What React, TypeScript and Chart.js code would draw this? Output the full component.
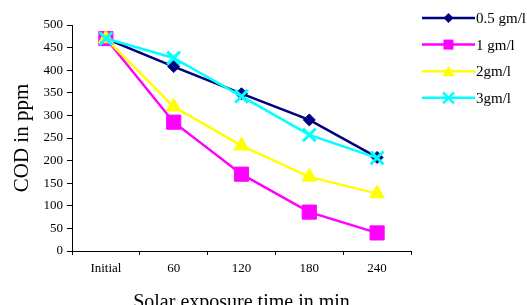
import React, { useEffect, useRef } from "react";
import { Chart, registerables } from "chart.js";

Chart.register(...registerables);

const categories = ["Initial", "60", "120", "180", "240"];
const series05 = [470, 408, 348, 290, 207];
const series1 = [470, 285, 170, 86, 40];
const series2 = [470, 319, 233, 164, 127];
const series3 = [470, 427, 342, 257, 206];
const seriesNames = ["0.5 gm/l", "1 gm/l", "2gm/l", "3gm/l"];
const yTicksMax = 500;
const yTicksStep = 50;

const FONT = "'Liberation Serif', 'Times New Roman', serif";

const colors = ["#000080", "#FF00FF", "#FFFF00", "#00FFFF"];
const styles = ["rectRot", "rect", "triangle", "crossRot"];

function drawMarker(ctx: CanvasRenderingContext2D, style: string, x: number, y: number, color: string) {
  ctx.save();
  ctx.fillStyle = color;
  ctx.strokeStyle = color;
  ctx.beginPath();
  if (style === "rectRot") {
    const r = 5;
    ctx.moveTo(x - r, y);
    ctx.lineTo(x, y - r);
    ctx.lineTo(x + r, y);
    ctx.lineTo(x, y + r);
    ctx.closePath();
    ctx.fill();
  } else if (style === "rect") {
    const s = 5;
    ctx.rect(x - s, y - s, 2 * s, 2 * s);
    ctx.fill();
  } else if (style === "triangle") {
    const r = 7;
    for (let k = 0; k < 3; k++) {
      const a = (k * 2 * Math.PI) / 3;
      const px = x + Math.sin(a) * r;
      const py = y - Math.cos(a) * r + 1.5;
      if (k === 0) ctx.moveTo(px, py);
      else ctx.lineTo(px, py);
    }
    ctx.closePath();
    ctx.fill();
  } else {
    const d = 5.5;
    ctx.lineWidth = 2.5;
    ctx.moveTo(x - d, y - d);
    ctx.lineTo(x + d, y + d);
    ctx.moveTo(x + d, y - d);
    ctx.lineTo(x - d, y + d);
    ctx.stroke();
  }
  ctx.restore();
}

const legendPlugin = {
  id: "customLegend",
  afterDraw(chart: any) {
    const ctx = chart.ctx as CanvasRenderingContext2D;
    const x0 = chart.chartArea.right + 11;
    const x1 = x0 + 53;
    chart.data.datasets.forEach((ds: any, i: number) => {
      const y = 18 + i * 26.6;
      ctx.save();
      ctx.strokeStyle = ds.borderColor;
      ctx.lineWidth = 2.5;
      ctx.beginPath();
      ctx.moveTo(x0, y);
      ctx.lineTo(x1, y);
      ctx.stroke();
      ctx.restore();
      drawMarker(ctx, styles[i], (x0 + x1) / 2, y, ds.borderColor);
      ctx.save();
      ctx.fillStyle = "#000";
      ctx.font = `15px ${FONT}`;
      ctx.textBaseline = "middle";
      ctx.textAlign = "left";
      ctx.fillText(ds.label, x1 + 1, y + 1);
      ctx.restore();
    });
  },
};

export default function App() {
  const ref = useRef<HTMLCanvasElement | null>(null);
  useEffect(() => {
    if (!ref.current) return;
    const data = [series05, series1, series2, series3];
    const radii = [6, 10, 8.5, 9];
    const chart = new Chart(ref.current, {
      type: "line",
      data: {
        labels: categories,
        datasets: data.map((d, i) => ({
          label: seriesNames[i],
          data: d,
          borderColor: colors[i],
          backgroundColor: colors[i],
          pointBackgroundColor: colors[i],
          pointBorderColor: colors[i],
          pointStyle: styles[i] as any,
          pointRadius: radii[i],
          pointBorderWidth: i === 3 ? 3 : 1,
          borderWidth: 2.5,
          tension: 0,
          fill: false,
          order: 4 - i,
        })),
      },
      options: {
        animation: false,
        responsive: true,
        maintainAspectRatio: false,
        layout: { padding: { left: 0, right: 116, top: 25, bottom: 0 } },
        plugins: {
          legend: { display: false },
          tooltip: { enabled: false },
        },
        scales: {
          x: {
            type: "category",
            offset: true,
            afterFit(scale: any) {
              scale.height = 54;
            },
            grid: {
              offset: true,
              drawOnChartArea: false,
              drawTicks: true,
              tickLength: 4,
              color: "#000",
            },
            border: { display: true, color: "#000", width: 1 },
            ticks: {
              color: "#000",
              font: { family: FONT, size: 13 },
              padding: 6,
              maxRotation: 0,
            },
            title: {
              display: true,
              text: "Solar exposure time in min",
              color: "#000",
              font: { family: FONT, size: 20 },
              padding: { top: 0, bottom: -10 },
            },
          },
          y: {
            min: 0,
            max: yTicksMax,
            afterFit(scale: any) {
              scale.width = 72;
            },
            grid: {
              drawOnChartArea: false,
              drawTicks: true,
              tickLength: 5,
              color: "#000",
            },
            border: { display: true, color: "#000", width: 1 },
            ticks: {
              stepSize: yTicksStep,
              color: "#000",
              font: { family: FONT, size: 13 },
              padding: 4,
            },
            title: {
              display: true,
              text: "COD in ppm",
              color: "#000",
              font: { family: FONT, size: 21 },
              padding: { top: 10, bottom: 0 },
            },
          },
        },
      },
      plugins: [legendPlugin],
    });
    return () => chart.destroy();
  }, []);
  return (
    <div style={{ position: "absolute", left: 0, top: 0, width: 527, height: 305, background: "#fff" }}>
      <canvas ref={ref} />
    </div>
  );
}
